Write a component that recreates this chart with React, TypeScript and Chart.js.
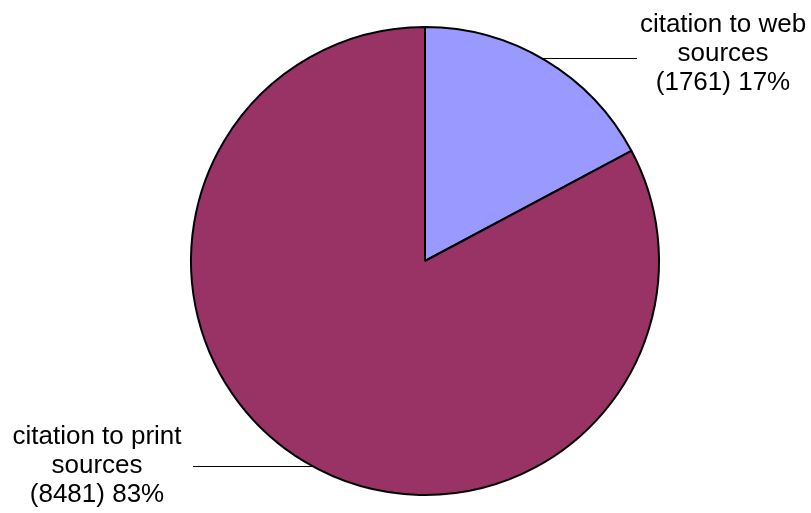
import React, { useEffect, useRef } from "react";
import { Chart, registerables } from "chart.js";

Chart.register(...registerables);

const categories = ["citation to web sources", "citation to print sources"];
const values = [1761, 8481];
const labelLines = [
  ["citation to web", "sources", "(1761) 17%"],
  ["citation to print", "sources", "(8481) 83%"],
];
const colors = ["#9999FF", "#993366"];

// label layout (pixels relative to pie centre)
const labelLayout = [
  { textX: 298, textY: -236, lineY: -203, lineEndX: 212 },
  { textX: -328, textY: 176, lineY: 205, lineEndX: -232 },
];

const labelsPlugin = {
  id: "pieLabels",
  afterDraw(chart: any) {
    const ctx = chart.ctx;
    const meta = chart.getDatasetMeta(0);
    ctx.save();
    meta.data.forEach((arc: any, i: number) => {
      const { x: cx, y: cy, outerRadius: r } = arc.getProps(["x", "y", "outerRadius"], true);
      const L = labelLayout[i];
      const dy = L.lineY;
      const dx = Math.sqrt(Math.max(r * r - dy * dy, 0));
      const startX = L.lineEndX > 0 ? cx + dx : cx - dx;
      ctx.beginPath();
      ctx.strokeStyle = "#000000";
      ctx.lineWidth = 1;
      ctx.moveTo(startX, Math.round(cy + dy) + 0.5);
      ctx.lineTo(cx + L.lineEndX, Math.round(cy + dy) + 0.5);
      ctx.stroke();
      ctx.fillStyle = "#000000";
      ctx.font = "26px 'Liberation Sans', Arial, sans-serif";
      ctx.textAlign = "center";
      ctx.textBaseline = "middle";
      labelLines[i].forEach((t, j) => {
        ctx.fillText(t, cx + L.textX, cy + L.textY + j * 29);
      });
    });
    ctx.restore();
  },
};

export default function App() {
  const ref = useRef<HTMLCanvasElement | null>(null);
  useEffect(() => {
    document.body.style.margin = "0";
    const chart = new Chart(ref.current as HTMLCanvasElement, {
      type: "pie",
      data: {
        labels: categories,
        datasets: [
          {
            data: values,
            backgroundColor: colors,
            borderColor: "#000000",
            borderWidth: 2,
          },
        ],
      },
      options: {
        responsive: false,
        animation: false,
        layout: { padding: { left: 190, right: 151, top: 26, bottom: 17 } },
        plugins: {
          legend: { display: false },
          tooltip: { enabled: false },
        },
      },
      plugins: [labelsPlugin],
    });
    return () => chart.destroy();
  }, []);
  return (
    <div style={{ width: 811, height: 513, background: "#fff" }}>
      <canvas ref={ref} width={811} height={513} />
    </div>
  );
}
